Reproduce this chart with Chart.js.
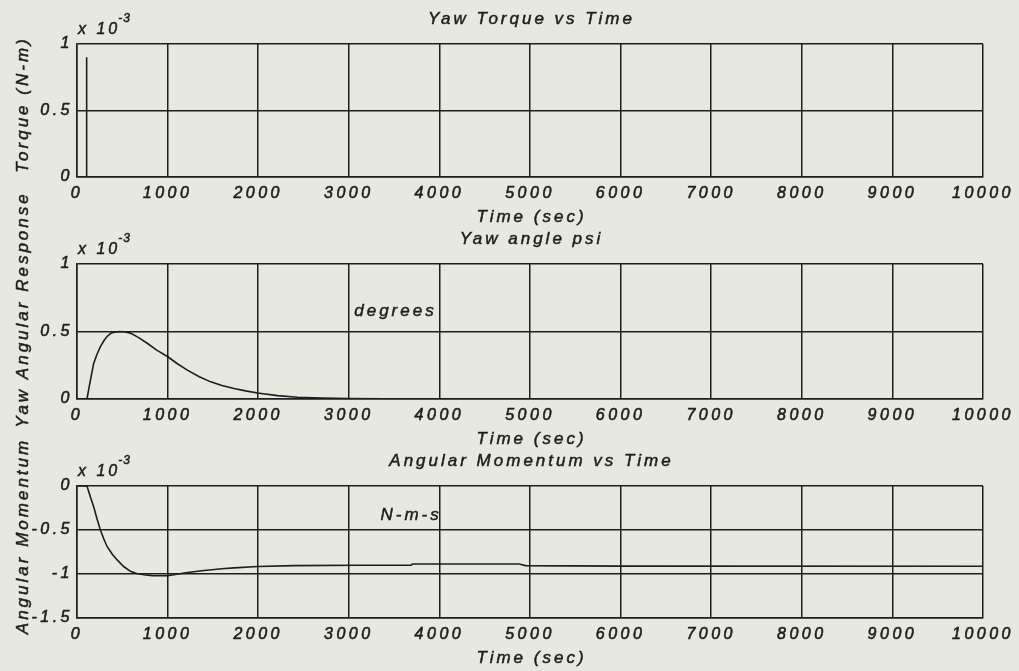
<!DOCTYPE html>
<html>
<head>
<meta charset="utf-8">
<script src="https://cdn.jsdelivr.net/npm/chart.js@4.4.1/dist/chart.umd.min.js"></script>
<style>
  html, body { margin: 0; padding: 0; background: #e7e8e0; }
  #wrap { position: relative; width: 1019px; height: 671px; }
  #wrap canvas { position: absolute; left: 0; top: 0; }
</style>
</head>
<body>
<div id="wrap">
  <canvas id="torqueChart" width="1019" height="671"></canvas>
  <canvas id="yawChart" width="1019" height="671"></canvas>
  <canvas id="momentumChart" width="1019" height="671"></canvas>
</div>
<script>
// time axis shared by all three panels (sec)
const timeTicks = [0, 1000, 2000, 3000, 4000, 5000, 6000, 7000, 8000, 9000, 10000];

// values below are in units of 1e-3
const torqueTicks = [0, 0.5, 1];
const torqueTime = [0, 100, 100, 110, 110, 10000];
const torqueValue = [0, 0, 0.9, 0.9, 0, 0];

const yawTicks = [0, 0.5, 1];
const yawTime = [0, 110, 140, 184, 220, 258, 300, 332, 380, 461, 530, 590, 680, 775, 880, 1003,
  1100, 1218, 1350, 1476, 1600, 1734, 1860, 1993, 2215, 2436, 2700, 3000, 3400, 4000, 10000];
const yawValue = [0, 0, 0.11, 0.264, 0.33, 0.388, 0.435, 0.463, 0.49, 0.5, 0.497, 0.488, 0.455, 0.413, 0.362, 0.313,
  0.265, 0.214, 0.165, 0.127, 0.1, 0.078, 0.06, 0.045, 0.025, 0.013, 0.007, 0.004, 0.001, 0, 0];

const momentumTicks = [-1.5, -1, -0.5, 0];
const momentumTime = [0, 110, 150, 184, 220, 258, 295, 332, 390, 443, 515, 590, 660, 738, 830, 922, 1000,
  1070, 1200, 1402, 1600, 1734, 1993, 2400, 3100, 3690, 3700, 4880, 4950, 6000, 10000];
const momentumValue = [0, 0, -0.13, -0.235, -0.37, -0.5, -0.6, -0.687, -0.775, -0.84, -0.915, -0.97, -0.995, -1.008, -1.018, -1.02, -1.018,
  -1.008, -0.985, -0.96, -0.94, -0.93, -0.915, -0.905, -0.9, -0.9, -0.887, -0.887, -0.905, -0.91, -0.912];

const INK = '#1e1e1e';
const FACE = '"Liberation Sans", Arial, Helvetica, sans-serif';
const X_AXIS_H = 30;
const PAGE_H = 671;

// fill plus a thin outline so the lettering reads as heavy as printed text
function inkText(ctx, str, x, y) {
  ctx.fillText(str, x, y);
  ctx.strokeText(str, x, y);
}

// titles, axis labels, exponent marker and in-plot notes
const textLayer = {
  id: 'textLayer',
  beforeDraw(chart) {
    chart.ctx.letterSpacing = '3.5px';
  },
  afterDraw(chart, args, opts) {
    const { ctx, chartArea: a, scales } = chart;
    const mid = (a.left + a.right) / 2;
    ctx.save();
    ctx.fillStyle = INK;
    ctx.strokeStyle = INK;
    ctx.lineWidth = 0.5;
    ctx.letterSpacing = '3px';
    ctx.font = 'italic 17px ' + FACE;
    ctx.textAlign = 'center';
    ctx.textBaseline = 'middle';
    inkText(ctx, opts.title, mid + 1.5, a.top - 25);
    inkText(ctx, 'Time (sec)', mid + 1.5, a.bottom + 40);

    // scale factor above the y axis
    ctx.textAlign = 'left';
    ctx.textBaseline = 'alphabetic';
    ctx.font = 'italic 16px ' + FACE;
    inkText(ctx, 'x 10', a.left + 1, a.top - 10);
    const w = ctx.measureText('x 10').width;
    ctx.font = 'italic 12px ' + FACE;
    ctx.letterSpacing = '1px';
    inkText(ctx, '-3', a.left + w - 1, a.top - 22);

    if (opts.note) {
      ctx.font = 'italic 17px ' + FACE;
      ctx.letterSpacing = '3px';
      ctx.textBaseline = 'middle';
      inkText(ctx, opts.note.text,
        scales.x.getPixelForValue(opts.note.x),
        scales.y.getPixelForValue(opts.note.y));
    }

    ctx.translate(23, (a.top + a.bottom) / 2 + opts.yShift);
    ctx.rotate(-Math.PI / 2);
    ctx.font = 'italic 17px ' + FACE;
    ctx.letterSpacing = '3px';
    ctx.textAlign = 'center';
    ctx.textBaseline = 'middle';
    inkText(ctx, opts.yTitle, 0, 0);
    ctx.restore();
  }
};

function makePanel(id, times, values, yTicks, top, bottom, text) {
  const tickFont = { family: FACE, size: 16, style: 'italic' };
  const tickStyle = { color: INK, font: tickFont, textStrokeColor: INK, textStrokeWidth: 0.6 };
  return new Chart(document.getElementById(id), {
    type: 'line',
    data: {
      datasets: [{
        data: times.map((t, i) => ({ x: t, y: values[i] })),
        borderColor: INK,
        borderWidth: 1.6,
        pointRadius: 0,
        tension: 0,
        fill: false
      }]
    },
    options: {
      responsive: false,
      animation: false,
      events: [],
      layout: { padding: { left: 0, right: 36, top: top, bottom: PAGE_H - bottom - X_AXIS_H } },
      plugins: {
        legend: { display: false },
        tooltip: { enabled: false },
        textLayer: text
      },
      scales: {
        x: {
          type: 'linear',
          min: timeTicks[0],
          max: timeTicks[timeTicks.length - 1],
          afterBuildTicks: s => { s.ticks = timeTicks.map(v => ({ value: v })); },
          afterFit: s => { s.height = X_AXIS_H; },
          grid: { color: INK, lineWidth: 1.5, drawTicks: false },
          border: { color: INK, width: 1.5 },
          ticks: { ...tickStyle, padding: 7, autoSkip: false, maxRotation: 0,
            callback: v => String(v) }
        },
        y: {
          type: 'linear',
          min: yTicks[0],
          max: yTicks[yTicks.length - 1],
          afterBuildTicks: s => { s.ticks = yTicks.map(v => ({ value: v })); },
          afterFit: s => { s.width = 77; },
          grid: { color: INK, lineWidth: 1.5, drawTicks: false },
          border: { color: INK, width: 1.5 },
          ticks: { ...tickStyle, padding: 4, callback: v => String(v) }
        }
      }
    },
    plugins: [textLayer]
  });
}

makePanel('torqueChart', torqueTime, torqueValue, torqueTicks, 44, 177,
  { title: 'Yaw Torque vs Time', yTitle: 'Torque (N-m)', yShift: -6 });
makePanel('yawChart', yawTime, yawValue, yawTicks, 264, 399,
  { title: 'Yaw angle psi', yTitle: 'Yaw Angular Response', yShift: -22,
    note: { text: 'degrees', x: 3060, y: 0.65 } });
makePanel('momentumChart', momentumTime, momentumValue, momentumTicks, 486, 618,
  { title: 'Angular Momentum vs Time', yTitle: 'Angular Momentum', yShift: -16,
    note: { text: 'N-m-s', x: 3350, y: -0.33 } });
</script>
</body>
</html>
